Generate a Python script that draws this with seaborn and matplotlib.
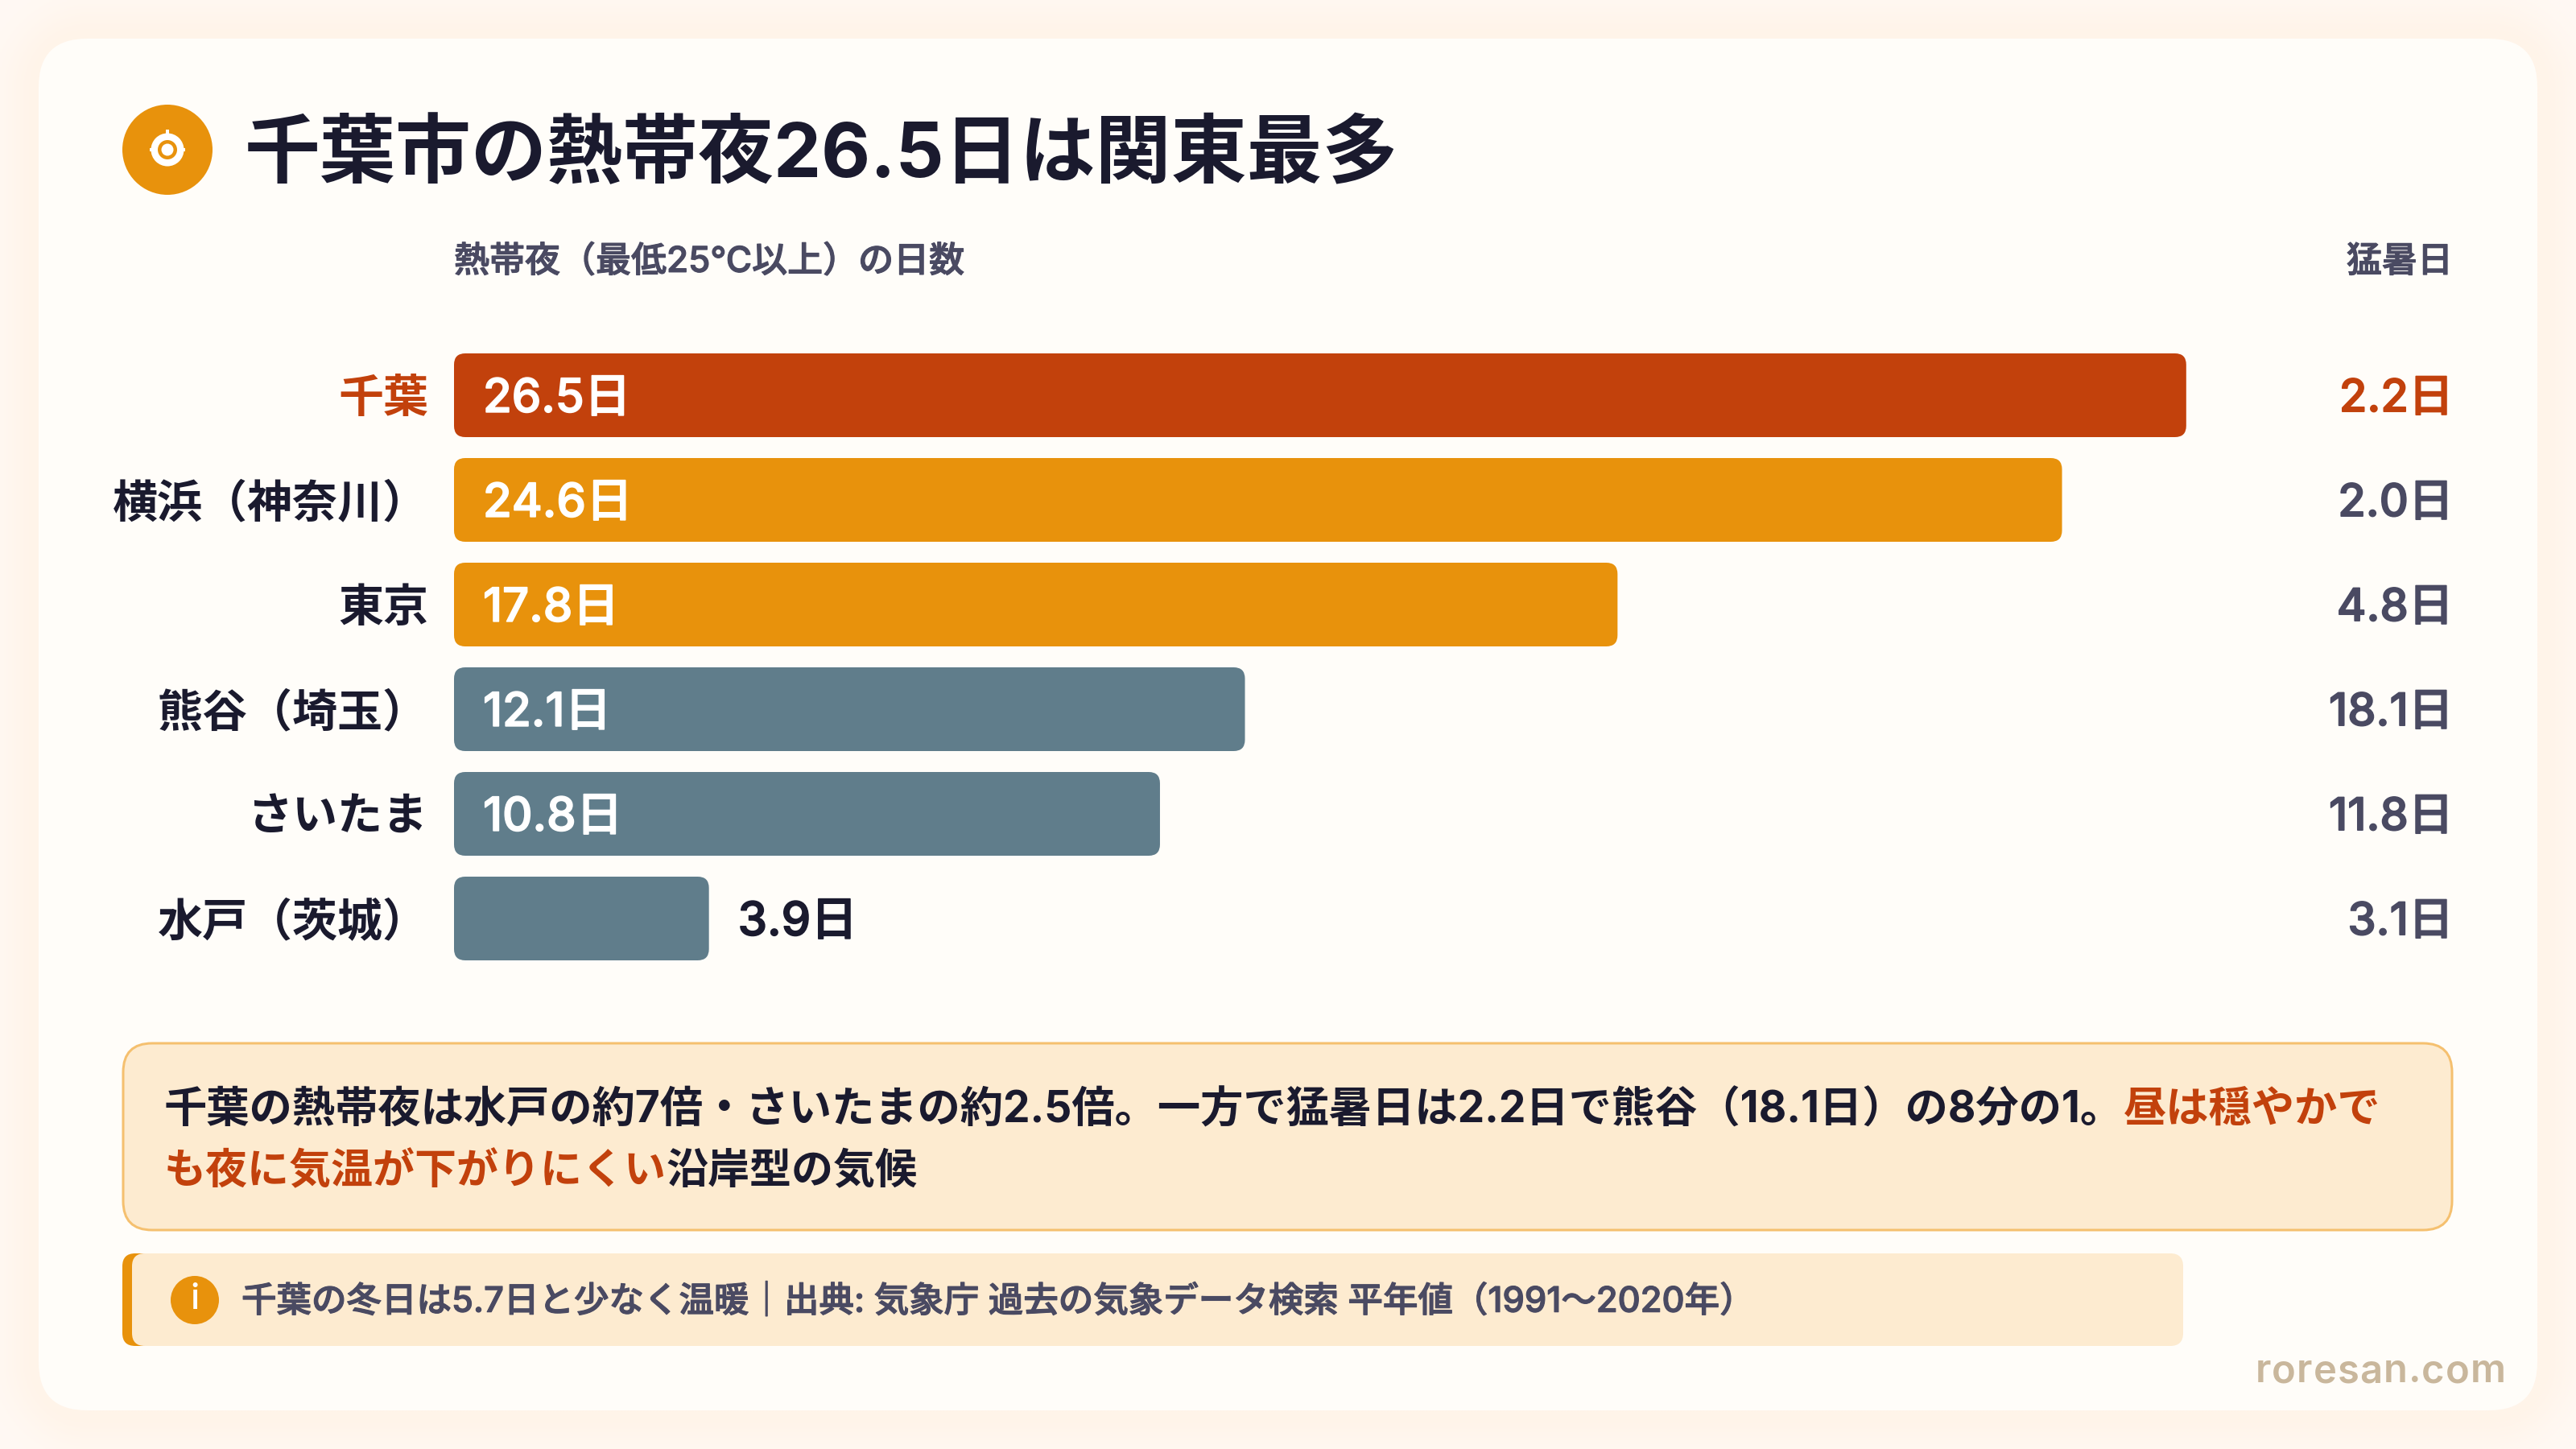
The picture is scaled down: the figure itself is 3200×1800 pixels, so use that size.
import matplotlib
matplotlib.use('Agg')
import matplotlib.pyplot as plt
import matplotlib.patheffects as pe
from matplotlib.patches import FancyBboxPatch, Circle, Rectangle
import numpy as np
import pandas as pd
import seaborn as sns

### data ###
cities = ['千葉', '横浜（神奈川）', '東京', '熊谷（埼玉）', 'さいたま', '水戸（茨城）']
nights = [26.5, 24.6, 17.8, 12.1, 10.8, 3.9]
hot_days = [2.2, 2.0, 4.8, 18.1, 11.8, 3.1]
title = '千葉市の熱帯夜26.5日は関東最多'
left_head = '熱帯夜（最低25℃以上）の日数'
right_head = '猛暑日'
note_line1 = [('千葉の熱帯夜は水戸の約7倍・さいたまの約2.5倍。一方で猛暑日は2.2日で熊谷（18.1日）の8分の1。', 'ink'), ('昼は穏やかで', 'red')]
note_line2 = [('も夜に気温が下がりにくい', 'red'), ('沿岸型の気候', 'ink')]
source = '千葉の冬日は5.7日と少なく温暖｜出典: 気象庁 過去の気象データ検索 平年値（1991〜2020年）'
site = 'roresan.com'

### colours ###
RED = '#C2410C'
ORANGE = '#E8920C'
SLATE = '#607D8B'
INK = '#1A1A2E'
GREY = '#4A4A62'
bar_cols = [RED, ORANGE, ORANGE, SLATE, SLATE, SLATE]
COLS = {'ink': INK, 'red': RED}

sns.set_theme(style='white')
FONT = ['Inter', 'Noto Sans CJK JP', 'DejaVu Sans']
plt.rcParams['font.family'] = FONT

W, H = 3200, 1800
PX = 72 / 200  # px -> pt
fig = plt.figure(figsize=(16, 9), dpi=200, facecolor='#FFF9F4')

# pixel canvas for the card and the boxes
bg = fig.add_axes([0, 0, 1, 1])
bg.axis('off')

# soft glow round the card, the page itself is paler
yy, xx = np.mgrid[0:H:4, 0:W:4]
qx = np.maximum(np.abs(xx - W / 2) - (W / 2 - 48 - 60), 0)
qy = np.maximum(np.abs(yy - H / 2) - (H / 2 - 48 - 60), 0)
dist = np.maximum(np.hypot(qx, qy) - 60, 0)
glow = np.exp(-(dist / 45) ** 2)[..., None]
page = np.array([255, 249, 244]) / 255
near = np.array([255, 244, 233]) / 255
bg.imshow(page + (near - page) * glow, extent=(0, W, H, 0), aspect='auto', zorder=0, interpolation='bilinear')
bg.set_xlim(0, W)
bg.set_ylim(H, 0)


def box(x0, y0, x1, y1, r, fc, ec='none', lw=0, z=1):
    p = FancyBboxPatch((x0, y0), x1 - x0, y1 - y0, boxstyle=f'round,pad=0,rounding_size={r}',
                       fc=fc, ec=ec, lw=lw * PX, zorder=z)
    bg.add_patch(p)
    return p


def text_w(s, size, weight):
    t = bg.text(0, 0, s, fontsize=size * PX, fontweight=weight)
    w = t.get_window_extent(fig.canvas.get_renderer()).width
    t.remove()
    return w


def thicken(t, color, px=1.2):
    # CJK font has no medium cut, so fatten the regular one a little
    t.set_path_effects([pe.withStroke(linewidth=px * PX, foreground=color)])
    return t


def label(x, yc, s, size, color, weight='normal', ha='left', z=5):
    # yc is the middle of the em box
    return bg.text(x, yc + 0.36 * size, s, fontsize=size * PX, color=color, fontweight=weight,
                   ha=ha, va='baseline', zorder=z)


box(48, 48, 3152, 1752, 60, '#FFFDF9')

# icon
bg.add_patch(Circle((208, 186), 56, fc=ORANGE, ec='none', zorder=2))
bg.add_patch(Circle((208, 186), 20.5, fc='white', ec='none', zorder=3))
bg.add_patch(Circle((208, 186), 12, fc=ORANGE, ec='none', zorder=4))
bg.add_patch(Circle((208, 186), 7.5, fc='white', ec='none', zorder=5))
bg.add_patch(Rectangle((206, 161), 4, 6, fc='white', ec='none', zorder=3))
bg.add_patch(Rectangle((186, 184), 3, 4, fc='white', ec='none', zorder=3))
bg.add_patch(Rectangle((227, 184), 3, 4, fc='white', ec='none', zorder=3))

label(304, 186, title, 94, INK, 'bold')
thicken(label(564, 322, left_head, 44, GREY, 'medium'), GREY)
thicken(label(3047, 322, right_head, 44, GREY, 'medium', ha='right'), GREY)

### bars ###
df = pd.DataFrame({'city': cities, 'nights': nights})
ax = fig.add_axes([564 / W, 1 - 1206 / H, (3048 - 564) / W, 780 / H])
ax.patch.set_alpha(0)
sns.barplot(data=df, x='nights', y='city', hue='city', palette=bar_cols, dodge=False,
            legend=False, width=0.8, saturation=1, ax=ax)
ax.set_xlim(0, (3048 - 564) / 81.2)
ax.set_ylim(5.5, -0.5)
sns.despine(ax=ax, left=True, bottom=True)
ax.set_xlabel('')
ax.set_ylabel('')
ax.set_xticks([])
ax.tick_params(axis='y', length=0, pad=32 * PX)
for t, c in zip(ax.get_yticklabels(), cities):
    t.set_fontsize(56 * PX)
    t.set_fontweight('bold')
    t.set_color(RED if c == '千葉' else INK)

# swap the square bars for rounded ones, same size
for bar in list(ax.patches):
    if bar.get_width() == 0:
        continue
    (x0, y0), (x1, y1) = ax.transData.transform([(bar.get_x(), bar.get_y()),
                                                 (bar.get_x() + bar.get_width(), bar.get_y() + bar.get_height())])
    (x0, y0), (x1, y1) = bg.transData.inverted().transform([(x0, y0), (x1, y1)])
    box(x0, min(y0, y1), x1, max(y0, y1), 14, bar.get_facecolor())
    bar.set_visible(False)

for i, (n, d) in enumerate(zip(nights, hot_days)):
    txt = f'{n}日'
    col = 'white' if n >= 10 else INK
    v = ax.annotate(txt, (0 if n >= 10 else n, i), xytext=(36 * PX, -0.36 * 58 * PX), textcoords='offset points',
                    fontsize=58 * PX, fontweight='medium', color=col, ha='left', va='baseline')
    thicken(v, col, 1.6)
    col = RED if i == 0 else GREY
    v = ax.annotate(f'{d}日', (1, i), xycoords=ax.get_yaxis_transform(), xytext=(0, -0.36 * 56 * PX),
                    textcoords='offset points', fontsize=56 * PX, fontweight='medium', color=col,
                    ha='right', va='baseline')
    thicken(v, col, 1.6)

### notes ###
box(153, 1296, 3046, 1528, 36, '#FDEBD0', ec='#F5C06F', lw=3)
for yc, runs, size in [(1375, note_line1, 53.3), (1452, note_line2, 52)]:
    x = 204
    for s, c in runs:
        label(x, yc, s, size, COLS[c], 'bold')
        x += text_w(s, size, 'bold')

box(152, 1557, 200, 1672, 16, ORANGE)
box(164, 1557, 2712, 1672, 16, '#FDEBD0', z=2)
bg.add_patch(Circle((242, 1615), 30, fc=ORANGE, ec='none', zorder=3))
bg.text(242, 1615, 'i', fontsize=44 * PX, color='white', fontweight='medium', ha='center', va='center',
        family='Inter', zorder=4)
thicken(label(300, 1614, source, 43.5, GREY, 'medium'), GREY)

for i, ch in enumerate(site):
    x = 2802 + (text_w(site[:i], 49, 'semibold') + i * 1.0 if i else 0)
    bg.text(x, 1717, ch, fontsize=49 * PX, color='#C9B79C',
            family='Inter', fontweight='semibold', va='baseline', zorder=5)

fig.savefig('out.png', dpi=200, facecolor=fig.get_facecolor())
